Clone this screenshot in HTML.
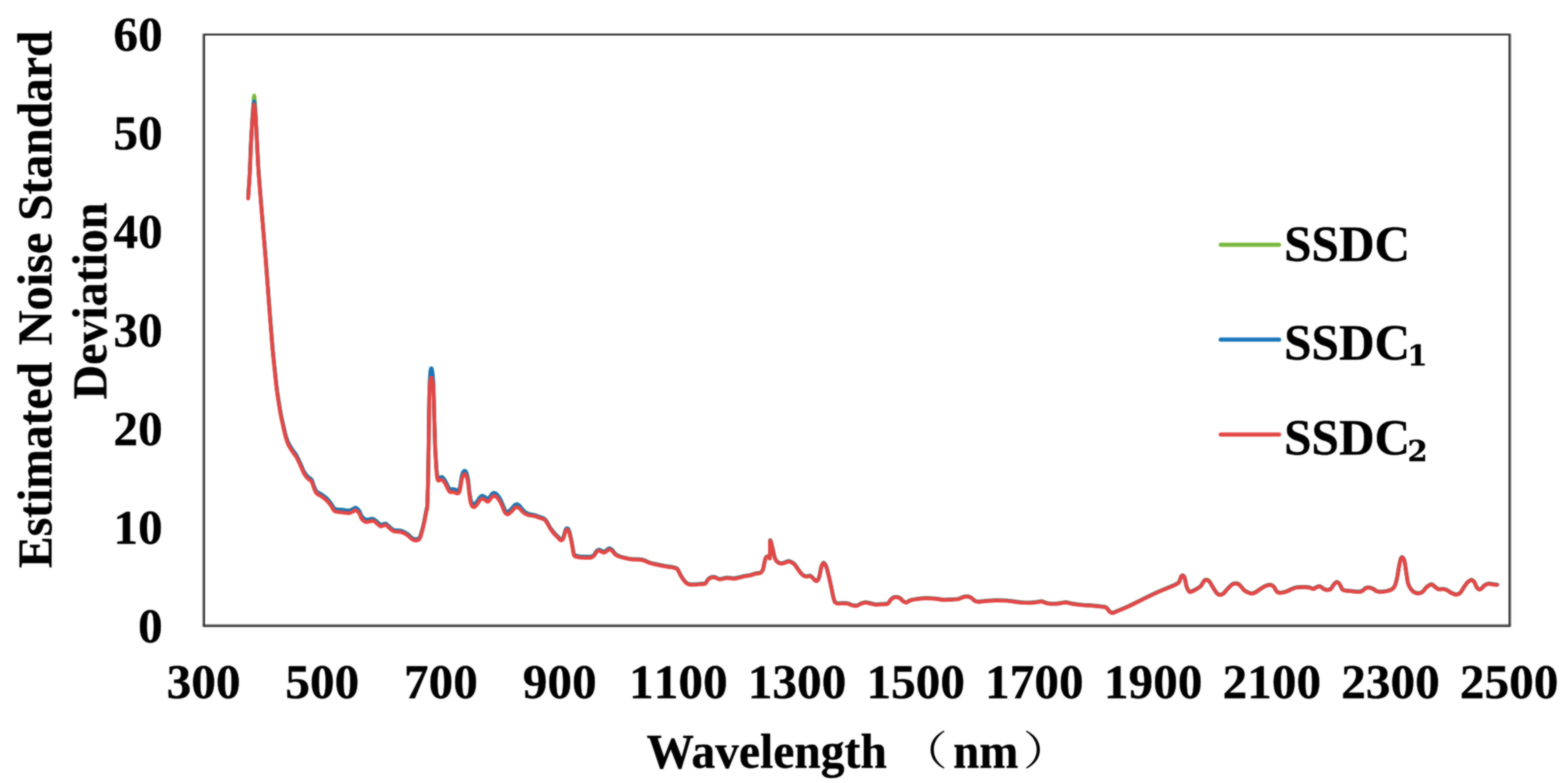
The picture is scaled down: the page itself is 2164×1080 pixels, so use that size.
<!DOCTYPE html>
<html lang="en">
<head>
<meta charset="utf-8">
<title>Estimated Noise Standard Deviation vs Wavelength</title>
<style>
html,body{margin:0;padding:0;background:#fff;}
body{width:2164px;height:1080px;overflow:hidden;}
svg{display:block;}
</style>
</head>
<body>
<svg width="2164" height="1080" viewBox="0 0 2164 1080">
<rect x="0" y="0" width="2164" height="1080" fill="#ffffff"/>
<defs><filter id="soft" filterUnits="userSpaceOnUse" x="0" y="0" width="2164" height="1080" color-interpolation-filters="sRGB"><feGaussianBlur in="SourceGraphic" stdDeviation="1" result="b"/><feComposite in="SourceGraphic" in2="b" operator="arithmetic" k1="0" k2="0.3" k3="0.7" k4="0"/></filter></defs>
<g filter="url(#soft)">
<g fill="none" stroke="#9a9a9a" stroke-width="1.4">
<line x1="279.9" y1="46.4" x2="279.9" y2="864.8"/>
<line x1="279.3" y1="861.5" x2="2085.8" y2="861.5"/>
<line x1="2085.1" y1="46.4" x2="2085.1" y2="864.8"/>
</g>
<rect x="281.7" y="47.65" width="1801.5" height="815.85" fill="none" stroke="#333333" stroke-width="2.6"/>
<g fill="none" stroke-linejoin="round" stroke-linecap="round">
<path d="M789.30,748.80C789.65,750.66 789.85,752.52 790.30,754.79C790.75,757.06 791.38,763.30 792.50,765.02C793.62,766.73 796.20,766.66 798.30,767.05C800.40,767.43 805.05,767.68 807.50,767.77C809.95,767.85 814.05,768.03 815.80,767.64C817.55,767.26 818.95,766.11 820.00,765.02C821.05,763.94 822.28,760.85 823.30,759.89C824.32,758.93 825.90,758.03 827.30,758.17C828.70,758.32 831.87,760.90 833.30,760.92C834.73,760.95 836.45,759.05 837.50,758.37C838.55,757.70 839.75,756.05 840.80,756.08C841.85,756.11 843.82,757.49 845.00,758.58C846.18,759.67 847.80,762.67 849.20,763.87C850.60,765.07 853.03,766.37 855.00,767.15C856.97,767.94 860.96,768.91 863.30,769.46C865.64,770.01 868.77,770.81 871.70,771.09C874.63,771.37 881.64,771.18 884.20,771.45C886.76,771.72 888.25,772.41 890.00,773.04C891.75,773.67 894.60,775.28 896.70,775.97C898.80,776.66 902.09,777.32 905.00,777.96C907.91,778.60 914.00,779.90 917.50,780.53C921.00,781.16 927.55,781.87 930.00,782.45C932.45,783.03 933.84,783.43 935.00,784.68C936.16,785.93 937.25,789.47 938.30,791.36C939.35,793.25 941.32,796.49 942.50,798.16C943.68,799.83 945.41,802.22 946.70,803.27C947.99,804.32 950.12,805.29 951.70,805.67C953.28,806.05 956.14,806.02 958.00,805.96C959.86,805.90 962.86,805.47 965.00,805.26C967.14,805.05 971.66,805.29 973.30,804.49C974.94,803.69 975.65,800.69 976.70,799.54C977.75,798.39 979.40,796.81 980.80,796.30C982.20,795.79 984.95,795.55 986.70,795.87C988.45,796.19 990.98,798.44 993.30,798.56C995.62,798.68 1000.61,796.83 1003.30,796.70C1005.99,796.56 1010.27,797.62 1012.50,797.58C1014.73,797.53 1017.10,796.85 1019.20,796.39C1021.30,795.93 1025.18,794.76 1027.50,794.31C1029.82,793.85 1033.70,793.61 1035.80,793.12C1037.90,792.63 1040.62,791.24 1042.50,790.79C1044.38,790.33 1047.76,790.60 1049.20,789.90C1050.64,789.20 1052.04,787.47 1052.80,785.77C1053.56,784.07 1054.12,779.86 1054.60,777.75C1055.08,775.65 1055.75,772.13 1056.20,770.74C1056.65,769.35 1057.32,768.33 1057.80,767.82C1058.28,767.31 1059.10,767.08 1059.60,767.10C1060.10,767.13 1060.99,767.68 1061.40,768.00C1061.81,768.32 1062.33,770.63 1062.50,769.40C1062.67,768.17 1062.56,762.56 1062.60,759.20C1062.64,755.84 1062.56,746.94 1062.80,745.40C1063.04,743.86 1063.78,746.55 1064.30,748.20C1064.82,749.86 1065.90,754.61 1066.50,757.20C1067.10,759.79 1067.97,764.53 1068.60,766.71C1069.23,768.88 1070.17,771.43 1071.00,772.71C1071.83,773.98 1073.39,775.23 1074.50,775.81C1075.61,776.38 1077.64,776.85 1078.90,776.81C1080.16,776.77 1082.25,775.92 1083.50,775.51C1084.75,775.11 1086.54,773.97 1087.80,773.92C1089.06,773.86 1091.35,774.62 1092.50,775.12C1093.65,775.63 1095.06,776.61 1096.00,777.52C1096.94,778.43 1098.05,780.04 1099.20,781.62C1100.35,783.21 1102.80,787.17 1104.20,788.86C1105.60,790.55 1107.93,792.85 1109.20,793.68C1110.47,794.51 1112.03,794.72 1113.30,794.76C1114.57,794.81 1117.12,793.70 1118.30,793.99C1119.48,794.27 1120.76,795.90 1121.70,796.79C1122.64,797.68 1124.08,799.83 1125.00,800.32C1125.92,800.81 1127.49,801.09 1128.30,800.31C1129.11,799.54 1130.10,797.27 1130.80,794.78C1131.50,792.30 1132.53,785.17 1133.30,782.57C1134.07,779.96 1135.36,776.50 1136.30,776.20C1137.24,775.89 1139.02,778.17 1140.00,780.40C1140.98,782.63 1142.36,788.36 1143.30,792.10C1144.24,795.84 1145.76,802.79 1146.70,807.10C1147.64,811.42 1149.19,819.64 1150.00,822.91C1150.81,826.17 1151.56,829.12 1152.50,830.41C1153.44,831.70 1155.19,831.93 1156.70,832.11C1158.21,832.29 1161.44,831.68 1163.30,831.66C1165.16,831.65 1168.25,831.60 1170.00,831.98C1171.75,832.36 1174.05,833.96 1175.80,834.40C1177.55,834.84 1180.75,835.43 1182.50,835.13C1184.25,834.82 1186.66,832.87 1188.30,832.23C1189.94,831.59 1192.45,830.59 1194.20,830.53C1195.95,830.48 1198.83,831.43 1200.80,831.84C1202.77,832.25 1205.96,833.27 1208.30,833.44C1210.64,833.61 1215.16,833.22 1217.50,833.07C1219.84,832.92 1223.36,833.23 1225.00,832.38C1226.64,831.54 1228.04,828.28 1229.20,827.07C1230.36,825.86 1232.03,824.25 1233.30,823.74C1234.57,823.23 1237.01,823.24 1238.30,823.42C1239.59,823.61 1241.42,824.34 1242.50,825.06C1243.58,825.78 1244.84,827.77 1246.00,828.57C1247.16,829.37 1249.36,830.90 1250.80,830.79C1252.24,830.68 1254.31,828.47 1256.30,827.80C1258.29,827.13 1262.03,826.44 1265.00,826.03C1267.97,825.62 1274.00,824.98 1277.50,824.88C1281.00,824.78 1286.50,825.02 1290.00,825.32C1293.50,825.62 1299.00,826.88 1302.50,827.05C1306.00,827.22 1312.09,826.73 1315.00,826.55C1317.91,826.37 1321.31,826.21 1323.30,825.75C1325.29,825.29 1327.67,823.71 1329.20,823.25C1330.73,822.79 1332.69,822.34 1334.20,822.45C1335.71,822.56 1338.49,823.24 1340.00,824.05C1341.51,824.86 1343.60,827.48 1345.00,828.25C1346.40,829.02 1347.79,829.49 1350.00,829.55C1352.21,829.61 1357.54,828.89 1360.80,828.65C1364.06,828.41 1369.21,827.91 1373.30,827.85C1377.39,827.79 1385.91,827.97 1390.00,828.25C1394.09,828.53 1399.70,829.51 1402.50,829.86C1405.30,830.21 1407.44,830.60 1410.00,830.78C1412.56,830.96 1417.54,831.28 1420.80,831.16C1424.06,831.04 1430.96,830.21 1433.30,829.93C1435.64,829.65 1435.75,828.84 1437.50,829.13C1439.25,829.42 1442.89,831.55 1445.80,832.01C1448.71,832.47 1454.80,832.57 1458.30,832.38C1461.80,832.19 1467.87,830.67 1470.80,830.66C1473.73,830.65 1476.27,831.87 1479.20,832.34C1482.13,832.81 1487.63,833.62 1491.70,834.02C1495.77,834.42 1504.23,834.85 1508.30,835.20C1512.37,835.55 1518.22,836.15 1520.80,836.50C1523.38,836.85 1525.30,836.83 1526.70,837.70C1528.10,838.57 1529.64,841.65 1530.80,842.70C1531.96,843.75 1533.47,845.20 1535.00,845.20C1536.53,845.20 1538.44,844.04 1541.70,842.70C1544.96,841.36 1551.08,838.99 1558.30,835.60C1565.52,832.21 1584.31,822.64 1593.30,818.50C1602.29,814.36 1617.71,808.32 1622.50,806.00C1627.29,803.68 1626.45,803.41 1627.50,801.90C1628.55,800.39 1629.30,796.38 1630.00,795.20C1630.70,794.02 1631.80,793.26 1632.50,793.50C1633.20,793.74 1634.30,794.80 1635.00,796.90C1635.70,799.00 1636.69,805.94 1637.50,808.50C1638.31,811.06 1639.99,814.15 1640.80,815.20C1641.61,816.25 1641.77,816.46 1643.30,816.00C1644.83,815.54 1649.71,813.06 1651.70,811.90C1653.69,810.74 1656.10,809.23 1657.50,807.70C1658.90,806.17 1660.65,802.16 1661.70,801.00C1662.75,799.84 1663.95,799.27 1665.00,799.40C1666.05,799.53 1667.91,800.39 1669.20,801.90C1670.49,803.41 1672.80,807.99 1674.20,810.20C1675.60,812.41 1677.93,816.30 1679.20,817.70C1680.47,819.10 1682.03,820.09 1683.30,820.20C1684.57,820.31 1686.66,819.79 1688.30,818.50C1689.94,817.21 1693.25,812.81 1695.00,811.00C1696.75,809.19 1699.29,806.52 1700.80,805.60C1702.31,804.68 1704.40,804.27 1705.80,804.40C1707.20,804.53 1709.27,805.23 1710.80,806.50C1712.33,807.77 1715.06,812.04 1716.70,813.50C1718.34,814.96 1720.99,816.23 1722.50,816.90C1724.01,817.57 1726.10,818.30 1727.50,818.30C1728.90,818.30 1730.64,817.89 1732.50,816.90C1734.36,815.91 1738.59,812.54 1740.80,811.20C1743.01,809.86 1746.42,807.96 1748.30,807.30C1750.18,806.64 1752.80,806.21 1754.20,806.50C1755.60,806.79 1757.25,808.18 1758.30,809.40C1759.35,810.62 1760.65,814.09 1761.70,815.20C1762.75,816.31 1764.05,817.19 1765.80,817.30C1767.55,817.41 1771.97,816.64 1774.20,816.00C1776.43,815.36 1779.73,813.51 1781.70,812.70C1783.67,811.89 1785.85,810.66 1788.30,810.20C1790.75,809.74 1796.51,809.40 1799.20,809.40C1801.89,809.40 1805.64,809.85 1807.50,810.20C1809.36,810.55 1811.21,811.96 1812.50,811.90C1813.79,811.84 1815.41,810.28 1816.70,809.80C1817.99,809.32 1820.30,808.21 1821.70,808.50C1823.10,808.79 1825.30,811.20 1826.70,811.90C1828.10,812.60 1830.30,813.50 1831.70,813.50C1833.10,813.50 1835.43,812.95 1836.70,811.90C1837.97,810.85 1839.64,807.29 1840.80,806.00C1841.96,804.71 1843.82,802.70 1845.00,802.70C1846.18,802.70 1848.15,804.60 1849.20,806.00C1850.25,807.40 1851.34,811.52 1852.50,812.70C1853.66,813.88 1855.64,814.05 1857.50,814.40C1859.36,814.75 1863.24,814.98 1865.80,815.20C1868.36,815.42 1873.74,816.11 1875.80,816.00C1877.86,815.89 1879.27,815.10 1880.50,814.40C1881.73,813.70 1883.33,811.59 1884.60,811.00C1885.87,810.41 1888.09,810.05 1889.60,810.20C1891.11,810.35 1893.87,811.37 1895.40,812.10C1896.93,812.83 1898.92,814.85 1900.50,815.40C1902.08,815.95 1904.67,816.08 1906.70,816.00C1908.73,815.92 1913.03,815.26 1915.00,814.80C1916.97,814.34 1919.40,813.69 1920.80,812.70C1922.20,811.71 1923.95,810.04 1925.00,807.70C1926.05,805.36 1927.49,799.74 1928.30,796.00C1929.11,792.26 1930.10,784.61 1930.80,781.00C1931.50,777.39 1932.66,771.95 1933.30,770.20C1933.94,768.45 1934.70,768.04 1935.40,768.50C1936.10,768.96 1937.54,770.57 1938.30,773.50C1939.06,776.43 1940.10,785.07 1940.80,789.40C1941.50,793.73 1942.36,801.14 1943.30,804.40C1944.24,807.66 1946.21,810.95 1947.50,812.70C1948.79,814.45 1950.99,816.14 1952.50,816.90C1954.01,817.66 1956.79,818.23 1958.30,818.10C1959.81,817.97 1961.90,817.11 1963.30,816.00C1964.70,814.89 1967.01,811.47 1968.30,810.20C1969.59,808.93 1971.32,807.49 1972.50,806.90C1973.68,806.31 1975.54,805.65 1976.70,806.00C1977.86,806.35 1979.64,808.52 1980.80,809.40C1981.96,810.28 1983.36,811.89 1985.00,812.30C1986.64,812.71 1990.64,812.01 1992.50,812.30C1994.36,812.59 1996.79,813.64 1998.30,814.40C1999.81,815.16 2001.77,816.94 2003.30,817.70C2004.83,818.46 2007.56,819.80 2009.20,819.80C2010.84,819.80 2013.49,819.04 2015.00,817.70C2016.51,816.36 2018.60,812.23 2020.00,810.20C2021.40,808.17 2023.74,804.60 2025.00,803.20C2026.26,801.80 2028.13,800.69 2029.00,800.20C2029.87,799.71 2030.43,799.42 2031.20,799.70C2031.97,799.98 2033.55,800.80 2034.50,802.20C2035.45,803.60 2036.98,808.22 2038.00,809.70C2039.02,811.18 2040.82,812.59 2041.80,812.80C2042.78,813.01 2044.03,811.98 2045.00,811.20C2045.97,810.42 2047.34,808.08 2048.70,807.20C2050.06,806.32 2052.88,805.10 2054.70,804.90C2056.52,804.70 2060.09,805.60 2061.70,805.80C2063.31,806.00 2065.57,806.23 2066.20,806.30" stroke="#7ab83f" stroke-width="5.2"/>
<path d="M342.50,271.14C342.81,266.45 344.17,247.93 344.70,237.64C345.23,227.35 345.78,208.51 346.30,197.64C346.82,186.77 347.90,168.19 348.40,159.97C348.90,151.76 349.56,142.93 349.90,138.94C350.24,134.95 350.55,131.49 350.80,131.49C351.05,131.49 351.39,134.95 351.70,138.94C352.01,142.93 352.57,151.76 353.00,159.97C353.43,168.19 354.24,186.76 354.80,197.63C355.36,208.51 356.02,223.63 357.00,237.63C357.98,251.63 360.43,280.83 361.80,297.63C363.17,314.43 365.47,340.83 366.80,357.63C368.13,374.43 370.01,400.83 371.30,417.63C372.59,434.43 374.92,465.03 376.00,477.63C377.08,490.22 378.12,499.22 379.00,507.62C379.88,516.02 381.18,529.22 382.30,537.62C383.42,546.02 386.06,562.02 387.00,567.62C387.94,573.22 388.37,574.68 389.00,577.62C389.63,580.56 390.79,585.51 391.50,588.62C392.21,591.73 393.19,596.70 394.10,599.82C395.01,602.94 396.50,607.81 398.00,610.91C399.50,614.02 403.27,619.67 404.80,622.01C406.33,624.35 407.57,625.27 408.90,627.61C410.23,629.95 412.86,635.60 414.30,638.71C415.74,641.81 417.79,647.24 419.20,649.81C420.61,652.37 422.89,655.37 424.40,657.00C425.91,658.64 428.82,659.79 430.00,661.50C431.18,663.21 431.86,667.00 432.80,669.23C433.74,671.46 435.15,675.67 436.70,677.43C438.25,679.20 441.88,680.45 443.90,681.85C445.92,683.26 449.31,685.75 451.10,687.47C452.89,689.19 455.15,692.13 456.70,694.13C458.25,696.14 459.88,700.54 462.20,701.80C464.52,703.05 470.57,702.78 473.30,703.11C476.03,703.44 479.75,704.31 481.70,704.14C483.65,703.96 485.88,702.40 487.20,701.86C488.52,701.32 489.85,699.83 491.10,700.27C492.35,700.71 495.01,703.39 496.10,704.99C497.19,706.59 497.65,710.07 498.90,711.70C500.15,713.33 502.75,716.10 505.00,716.63C507.25,717.16 512.82,715.04 515.00,715.49C517.18,715.94 519.12,718.70 520.60,719.84C522.08,720.99 523.98,723.36 525.60,723.67C527.22,723.98 530.49,721.63 532.20,722.07C533.91,722.51 536.25,725.57 537.80,726.81C539.35,728.04 541.35,730.24 543.30,730.92C545.25,731.59 549.75,731.29 551.70,731.63C553.65,731.97 555.65,732.64 557.20,733.34C558.75,734.05 561.25,735.49 562.80,736.66C564.35,737.82 566.83,740.68 568.30,741.67C569.77,742.65 571.82,743.67 573.30,743.68C574.78,743.68 577.65,743.28 578.90,741.69C580.15,740.09 581.35,735.16 582.20,732.29C583.05,729.43 584.30,724.34 585.00,721.20C585.70,718.06 586.65,712.64 587.20,709.85C587.75,707.06 588.56,702.93 588.90,701.26C589.24,699.58 589.36,702.57 589.60,697.88C589.84,693.19 590.33,679.00 590.60,667.77C590.87,656.54 591.30,630.29 591.50,617.66C591.70,605.04 591.85,588.35 592.00,577.61C592.15,566.86 592.38,549.28 592.60,540.92C592.82,532.57 593.32,522.30 593.60,517.91C593.88,513.52 594.36,510.88 594.60,509.57C594.84,508.27 595.10,508.58 595.30,508.58C595.50,508.58 595.73,508.27 596.00,509.57C596.27,510.88 596.88,514.41 597.20,517.91C597.52,521.41 597.99,526.36 598.30,534.60C598.61,542.84 599.08,565.28 599.40,576.77C599.72,588.26 600.31,609.00 600.60,616.69C600.89,624.37 601.25,627.47 601.50,631.66C601.75,635.86 602.13,643.29 602.40,646.64C602.67,649.99 603.09,653.86 603.40,655.62C603.71,657.37 604.03,658.78 604.60,659.19C605.17,659.59 606.69,658.69 607.50,658.52C608.31,658.34 609.69,657.68 610.40,657.95C611.11,658.21 611.93,659.48 612.60,660.39C613.27,661.30 614.44,663.05 615.20,664.43C615.96,665.81 617.23,668.85 618.00,670.26C618.77,671.67 619.59,673.89 620.70,674.49C621.81,675.10 624.44,674.31 625.90,674.57C627.36,674.83 630.04,676.25 631.10,676.34C632.16,676.43 632.95,675.95 633.50,675.18C634.05,674.41 634.51,673.21 635.00,670.84C635.49,668.48 636.54,660.76 637.00,658.30C637.46,655.83 637.91,654.38 638.30,653.26C638.69,652.15 639.32,650.88 639.80,650.33C640.28,649.77 641.20,649.17 641.70,649.28C642.20,649.39 642.97,650.25 643.40,651.14C643.83,652.02 644.39,653.88 644.80,655.60C645.21,657.33 645.92,660.65 646.30,663.47C646.68,666.28 647.08,672.32 647.50,675.73C647.92,679.13 648.78,685.33 649.30,687.82C649.82,690.30 650.56,692.44 651.20,693.51C651.84,694.58 653.16,695.39 653.90,695.45C654.64,695.50 655.76,694.58 656.50,693.90C657.24,693.22 658.36,691.76 659.20,690.60C660.04,689.44 661.60,686.57 662.50,685.60C663.40,684.63 664.62,683.70 665.60,683.70C666.58,683.70 668.42,685.01 669.50,685.60C670.58,686.19 672.25,688.11 673.30,687.90C674.35,687.69 676.20,685.05 677.00,684.10C677.80,683.15 678.43,681.70 679.00,681.10C679.57,680.50 680.47,679.91 681.10,679.80C681.73,679.69 682.84,680.01 683.50,680.30C684.16,680.59 685.17,681.30 685.80,681.90C686.43,682.50 687.41,683.80 688.00,684.60C688.59,685.40 689.37,686.45 690.00,687.60C690.63,688.75 691.72,690.99 692.50,692.80C693.28,694.61 694.90,698.94 695.60,700.55C696.30,702.16 696.88,703.54 697.50,704.30C698.12,705.06 699.37,705.87 700.00,706.00C700.63,706.13 701.44,705.58 702.00,705.25C702.56,704.91 703.34,704.22 704.00,703.59C704.66,702.97 705.93,701.66 706.70,700.78C707.47,699.91 708.83,698.06 709.50,697.37C710.17,696.67 710.97,696.10 711.50,695.82C712.03,695.53 712.78,695.30 713.30,695.35C713.82,695.39 714.68,695.83 715.20,696.13C715.72,696.43 716.33,696.77 717.00,697.50C717.67,698.23 719.16,700.36 720.00,701.35C720.84,702.34 722.15,703.81 723.00,704.60C723.85,705.39 725.12,706.45 726.10,707.02C727.08,707.59 728.84,708.28 730.00,708.66C731.16,709.03 733.21,709.44 734.40,709.71C735.59,709.98 737.32,710.24 738.50,710.58C739.68,710.93 741.61,711.75 742.80,712.17C743.99,712.58 745.84,713.12 747.00,713.54C748.16,713.97 750.19,714.61 751.10,715.19C752.01,715.77 752.87,716.84 753.50,717.67C754.13,718.51 754.77,719.73 755.60,721.16C756.43,722.58 758.48,726.36 759.40,727.82C760.32,729.29 761.42,730.60 762.20,731.60C762.98,732.60 764.19,734.08 765.00,734.98C765.81,735.88 767.22,737.25 768.00,738.06C768.78,738.86 769.96,740.04 770.60,740.74C771.24,741.43 772.07,742.56 772.60,743.02C773.13,743.48 773.85,744.02 774.40,744.00C774.95,743.99 775.95,743.65 776.50,742.89C777.05,742.13 777.81,740.03 778.30,738.56C778.79,737.10 779.57,733.76 780.00,732.44C780.43,731.12 781.01,729.69 781.40,729.14C781.79,728.60 782.41,728.51 782.80,728.56C783.19,728.60 783.81,728.88 784.20,729.46C784.59,730.03 785.10,730.97 785.60,732.66C786.10,734.35 787.28,739.25 787.80,741.51C788.32,743.77 788.95,746.94 789.30,748.80" stroke="#7ab83f" stroke-width="5.2"/>
<path d="M789.30,749.00C789.65,750.86 789.85,752.72 790.30,754.99C790.75,757.26 791.38,763.50 792.50,765.22C793.62,766.93 796.20,766.86 798.30,767.25C800.40,767.63 805.05,767.88 807.50,767.97C809.95,768.05 814.05,768.23 815.80,767.84C817.55,767.46 818.95,766.31 820.00,765.22C821.05,764.14 822.28,761.05 823.30,760.09C824.32,759.13 825.90,758.23 827.30,758.37C828.70,758.52 831.87,761.10 833.30,761.12C834.73,761.15 836.45,759.25 837.50,758.57C838.55,757.90 839.75,756.25 840.80,756.28C841.85,756.31 843.82,757.69 845.00,758.78C846.18,759.87 847.80,762.87 849.20,764.07C850.60,765.27 853.03,766.57 855.00,767.36C856.97,768.14 860.96,769.11 863.30,769.66C865.64,770.21 868.77,771.01 871.70,771.29C874.63,771.57 881.64,771.38 884.20,771.65C886.76,771.92 888.25,772.61 890.00,773.24C891.75,773.87 894.60,775.48 896.70,776.17C898.80,776.86 902.09,777.52 905.00,778.16C907.91,778.80 914.00,780.10 917.50,780.73C921.00,781.36 927.55,782.07 930.00,782.65C932.45,783.23 933.84,783.63 935.00,784.88C936.16,786.13 937.25,789.67 938.30,791.56C939.35,793.45 941.32,796.69 942.50,798.36C943.68,800.03 945.41,802.42 946.70,803.47C947.99,804.52 950.12,805.49 951.70,805.87C953.28,806.25 956.14,806.22 958.00,806.16C959.86,806.10 962.86,805.67 965.00,805.46C967.14,805.25 971.66,805.49 973.30,804.69C974.94,803.89 975.65,800.89 976.70,799.74C977.75,798.59 979.40,797.01 980.80,796.50C982.20,795.99 984.95,795.75 986.70,796.07C988.45,796.39 990.98,798.64 993.30,798.76C995.62,798.88 1000.61,797.03 1003.30,796.90C1005.99,796.76 1010.27,797.82 1012.50,797.77C1014.73,797.73 1017.10,797.05 1019.20,796.59C1021.30,796.13 1025.18,794.96 1027.50,794.50C1029.82,794.05 1033.70,793.81 1035.80,793.32C1037.90,792.83 1040.62,791.44 1042.50,790.99C1044.38,790.53 1047.76,790.80 1049.20,790.10C1050.64,789.40 1052.04,787.67 1052.80,785.97C1053.56,784.27 1054.12,780.06 1054.60,777.95C1055.08,775.85 1055.75,772.33 1056.20,770.94C1056.65,769.55 1057.32,768.53 1057.80,768.02C1058.28,767.51 1059.10,767.28 1059.60,767.30C1060.10,767.33 1060.99,767.88 1061.40,768.20C1061.81,768.52 1062.33,770.83 1062.50,769.60C1062.67,768.37 1062.56,762.76 1062.60,759.40C1062.64,756.04 1062.56,747.14 1062.80,745.60C1063.04,744.06 1063.78,746.75 1064.30,748.40C1064.82,750.06 1065.90,754.81 1066.50,757.40C1067.10,759.99 1067.97,764.73 1068.60,766.91C1069.23,769.08 1070.17,771.63 1071.00,772.91C1071.83,774.18 1073.39,775.43 1074.50,776.01C1075.61,776.58 1077.64,777.05 1078.90,777.01C1080.16,776.97 1082.25,776.12 1083.50,775.71C1084.75,775.31 1086.54,774.17 1087.80,774.12C1089.06,774.06 1091.35,774.82 1092.50,775.32C1093.65,775.83 1095.06,776.81 1096.00,777.72C1096.94,778.63 1098.05,780.24 1099.20,781.82C1100.35,783.41 1102.80,787.37 1104.20,789.06C1105.60,790.75 1107.93,793.05 1109.20,793.88C1110.47,794.71 1112.03,794.92 1113.30,794.96C1114.57,795.01 1117.12,793.90 1118.30,794.19C1119.48,794.47 1120.76,796.10 1121.70,796.99C1122.64,797.88 1124.08,800.03 1125.00,800.52C1125.92,801.01 1127.49,801.29 1128.30,800.51C1129.11,799.74 1130.10,797.47 1130.80,794.98C1131.50,792.50 1132.53,785.37 1133.30,782.77C1134.07,780.16 1135.36,776.70 1136.30,776.40C1137.24,776.09 1139.02,778.37 1140.00,780.60C1140.98,782.83 1142.36,788.56 1143.30,792.30C1144.24,796.04 1145.76,802.99 1146.70,807.30C1147.64,811.62 1149.19,819.84 1150.00,823.11C1150.81,826.37 1151.56,829.32 1152.50,830.61C1153.44,831.90 1155.19,832.13 1156.70,832.31C1158.21,832.49 1161.44,831.88 1163.30,831.86C1165.16,831.85 1168.25,831.80 1170.00,832.18C1171.75,832.56 1174.05,834.16 1175.80,834.60C1177.55,835.04 1180.75,835.63 1182.50,835.33C1184.25,835.02 1186.66,833.07 1188.30,832.43C1189.94,831.79 1192.45,830.79 1194.20,830.73C1195.95,830.68 1198.83,831.63 1200.80,832.04C1202.77,832.45 1205.96,833.47 1208.30,833.64C1210.64,833.81 1215.16,833.42 1217.50,833.27C1219.84,833.12 1223.36,833.43 1225.00,832.59C1226.64,831.74 1228.04,828.48 1229.20,827.27C1230.36,826.06 1232.03,824.45 1233.30,823.94C1234.57,823.43 1237.01,823.44 1238.30,823.62C1239.59,823.81 1241.42,824.54 1242.50,825.26C1243.58,825.98 1244.84,827.97 1246.00,828.77C1247.16,829.57 1249.36,831.10 1250.80,830.99C1252.24,830.88 1254.31,828.67 1256.30,828.00C1258.29,827.33 1262.03,826.64 1265.00,826.23C1267.97,825.82 1274.00,825.18 1277.50,825.08C1281.00,824.98 1286.50,825.22 1290.00,825.52C1293.50,825.82 1299.00,827.08 1302.50,827.25C1306.00,827.42 1312.09,826.93 1315.00,826.75C1317.91,826.57 1321.31,826.41 1323.30,825.95C1325.29,825.49 1327.67,823.91 1329.20,823.45C1330.73,822.99 1332.69,822.54 1334.20,822.65C1335.71,822.76 1338.49,823.44 1340.00,824.25C1341.51,825.06 1343.60,827.68 1345.00,828.45C1346.40,829.22 1347.79,829.69 1350.00,829.75C1352.21,829.81 1357.54,829.09 1360.80,828.85C1364.06,828.61 1369.21,828.11 1373.30,828.05C1377.39,827.99 1385.91,828.17 1390.00,828.45C1394.09,828.73 1399.70,829.71 1402.50,830.06C1405.30,830.41 1407.44,830.80 1410.00,830.98C1412.56,831.16 1417.54,831.48 1420.80,831.36C1424.06,831.24 1430.96,830.41 1433.30,830.13C1435.64,829.85 1435.75,829.04 1437.50,829.33C1439.25,829.62 1442.89,831.75 1445.80,832.21C1448.71,832.67 1454.80,832.77 1458.30,832.58C1461.80,832.39 1467.87,830.87 1470.80,830.86C1473.73,830.85 1476.27,832.07 1479.20,832.54C1482.13,833.01 1487.63,833.82 1491.70,834.22C1495.77,834.62 1504.23,835.05 1508.30,835.40C1512.37,835.75 1518.22,836.35 1520.80,836.70C1523.38,837.05 1525.30,837.03 1526.70,837.90C1528.10,838.77 1529.64,841.85 1530.80,842.90C1531.96,843.95 1533.47,845.40 1535.00,845.40C1536.53,845.40 1538.44,844.24 1541.70,842.90C1544.96,841.56 1551.08,839.19 1558.30,835.80C1565.52,832.41 1584.31,822.84 1593.30,818.70C1602.29,814.56 1617.71,808.52 1622.50,806.20C1627.29,803.88 1626.45,803.61 1627.50,802.10C1628.55,800.59 1629.30,796.58 1630.00,795.40C1630.70,794.22 1631.80,793.46 1632.50,793.70C1633.20,793.94 1634.30,795.00 1635.00,797.10C1635.70,799.20 1636.69,806.14 1637.50,808.70C1638.31,811.26 1639.99,814.35 1640.80,815.40C1641.61,816.45 1641.77,816.66 1643.30,816.20C1644.83,815.74 1649.71,813.26 1651.70,812.10C1653.69,810.94 1656.10,809.43 1657.50,807.90C1658.90,806.37 1660.65,802.36 1661.70,801.20C1662.75,800.04 1663.95,799.47 1665.00,799.60C1666.05,799.73 1667.91,800.59 1669.20,802.10C1670.49,803.61 1672.80,808.19 1674.20,810.40C1675.60,812.61 1677.93,816.50 1679.20,817.90C1680.47,819.30 1682.03,820.29 1683.30,820.40C1684.57,820.51 1686.66,819.99 1688.30,818.70C1689.94,817.41 1693.25,813.01 1695.00,811.20C1696.75,809.39 1699.29,806.72 1700.80,805.80C1702.31,804.88 1704.40,804.47 1705.80,804.60C1707.20,804.73 1709.27,805.43 1710.80,806.70C1712.33,807.97 1715.06,812.24 1716.70,813.70C1718.34,815.16 1720.99,816.43 1722.50,817.10C1724.01,817.77 1726.10,818.50 1727.50,818.50C1728.90,818.50 1730.64,818.09 1732.50,817.10C1734.36,816.11 1738.59,812.74 1740.80,811.40C1743.01,810.06 1746.42,808.16 1748.30,807.50C1750.18,806.84 1752.80,806.41 1754.20,806.70C1755.60,806.99 1757.25,808.38 1758.30,809.60C1759.35,810.82 1760.65,814.29 1761.70,815.40C1762.75,816.51 1764.05,817.39 1765.80,817.50C1767.55,817.61 1771.97,816.84 1774.20,816.20C1776.43,815.56 1779.73,813.71 1781.70,812.90C1783.67,812.09 1785.85,810.86 1788.30,810.40C1790.75,809.94 1796.51,809.60 1799.20,809.60C1801.89,809.60 1805.64,810.05 1807.50,810.40C1809.36,810.75 1811.21,812.16 1812.50,812.10C1813.79,812.04 1815.41,810.48 1816.70,810.00C1817.99,809.52 1820.30,808.41 1821.70,808.70C1823.10,808.99 1825.30,811.40 1826.70,812.10C1828.10,812.80 1830.30,813.70 1831.70,813.70C1833.10,813.70 1835.43,813.15 1836.70,812.10C1837.97,811.05 1839.64,807.49 1840.80,806.20C1841.96,804.91 1843.82,802.90 1845.00,802.90C1846.18,802.90 1848.15,804.80 1849.20,806.20C1850.25,807.60 1851.34,811.72 1852.50,812.90C1853.66,814.08 1855.64,814.25 1857.50,814.60C1859.36,814.95 1863.24,815.18 1865.80,815.40C1868.36,815.62 1873.74,816.31 1875.80,816.20C1877.86,816.09 1879.27,815.30 1880.50,814.60C1881.73,813.90 1883.33,811.79 1884.60,811.20C1885.87,810.61 1888.09,810.25 1889.60,810.40C1891.11,810.55 1893.87,811.57 1895.40,812.30C1896.93,813.03 1898.92,815.05 1900.50,815.60C1902.08,816.15 1904.67,816.28 1906.70,816.20C1908.73,816.12 1913.03,815.46 1915.00,815.00C1916.97,814.54 1919.40,813.89 1920.80,812.90C1922.20,811.91 1923.95,810.24 1925.00,807.90C1926.05,805.56 1927.49,799.94 1928.30,796.20C1929.11,792.46 1930.10,784.81 1930.80,781.20C1931.50,777.59 1932.66,772.15 1933.30,770.40C1933.94,768.65 1934.70,768.24 1935.40,768.70C1936.10,769.16 1937.54,770.77 1938.30,773.70C1939.06,776.63 1940.10,785.27 1940.80,789.60C1941.50,793.93 1942.36,801.34 1943.30,804.60C1944.24,807.86 1946.21,811.15 1947.50,812.90C1948.79,814.65 1950.99,816.34 1952.50,817.10C1954.01,817.86 1956.79,818.43 1958.30,818.30C1959.81,818.17 1961.90,817.31 1963.30,816.20C1964.70,815.09 1967.01,811.67 1968.30,810.40C1969.59,809.13 1971.32,807.69 1972.50,807.10C1973.68,806.51 1975.54,805.85 1976.70,806.20C1977.86,806.55 1979.64,808.72 1980.80,809.60C1981.96,810.48 1983.36,812.09 1985.00,812.50C1986.64,812.91 1990.64,812.21 1992.50,812.50C1994.36,812.79 1996.79,813.84 1998.30,814.60C1999.81,815.36 2001.77,817.14 2003.30,817.90C2004.83,818.66 2007.56,820.00 2009.20,820.00C2010.84,820.00 2013.49,819.24 2015.00,817.90C2016.51,816.56 2018.60,812.43 2020.00,810.40C2021.40,808.37 2023.74,804.80 2025.00,803.40C2026.26,802.00 2028.13,800.89 2029.00,800.40C2029.87,799.91 2030.43,799.62 2031.20,799.90C2031.97,800.18 2033.55,801.00 2034.50,802.40C2035.45,803.80 2036.98,808.42 2038.00,809.90C2039.02,811.38 2040.82,812.79 2041.80,813.00C2042.78,813.21 2044.03,812.18 2045.00,811.40C2045.97,810.62 2047.34,808.28 2048.70,807.40C2050.06,806.52 2052.88,805.30 2054.70,805.10C2056.52,804.90 2060.09,805.80 2061.70,806.00C2063.31,806.20 2065.57,806.43 2066.20,806.50" stroke="#1b76bd" stroke-width="5.2"/>
<path d="M342.50,271.34C342.81,266.65 344.17,248.13 344.70,237.84C345.23,227.55 345.78,208.34 346.30,197.84C346.82,187.34 347.90,170.10 348.40,162.84C348.90,155.57 349.56,149.16 349.90,145.95C350.24,142.74 350.55,139.93 350.80,139.93C351.05,139.93 351.39,142.75 351.70,145.95C352.01,149.16 352.57,155.57 353.00,162.84C353.43,170.10 354.24,187.34 354.80,197.83C355.36,208.33 356.02,223.83 357.00,237.83C357.98,251.83 360.43,281.03 361.80,297.83C363.17,314.63 365.47,341.03 366.80,357.83C368.13,374.63 370.01,401.03 371.30,417.83C372.59,434.63 374.92,465.23 376.00,477.83C377.08,490.42 378.12,499.42 379.00,507.82C379.88,516.22 381.18,529.42 382.30,537.82C383.42,546.22 386.06,562.22 387.00,567.82C387.94,573.42 388.37,574.88 389.00,577.82C389.63,580.76 390.79,585.71 391.50,588.82C392.21,591.93 393.19,596.90 394.10,600.02C395.01,603.14 396.50,608.01 398.00,611.11C399.50,614.22 403.27,619.87 404.80,622.21C406.33,624.55 407.57,625.47 408.90,627.81C410.23,630.15 412.86,635.80 414.30,638.91C415.74,642.01 417.79,647.44 419.20,650.01C420.61,652.57 422.89,655.57 424.40,657.20C425.91,658.84 428.82,659.99 430.00,661.70C431.18,663.41 431.86,667.20 432.80,669.43C433.74,671.66 435.15,675.87 436.70,677.63C438.25,679.40 441.88,680.65 443.90,682.05C445.92,683.46 449.31,685.95 451.10,687.67C452.89,689.39 455.15,692.33 456.70,694.33C458.25,696.34 459.88,700.74 462.20,702.00C464.52,703.25 470.57,702.98 473.30,703.31C476.03,703.64 479.75,704.51 481.70,704.34C483.65,704.16 485.88,702.60 487.20,702.06C488.52,701.52 489.85,700.03 491.10,700.47C492.35,700.91 495.01,703.59 496.10,705.19C497.19,706.79 497.65,710.27 498.90,711.90C500.15,713.53 502.75,716.30 505.00,716.83C507.25,717.36 512.82,715.24 515.00,715.69C517.18,716.14 519.12,718.90 520.60,720.04C522.08,721.19 523.98,723.56 525.60,723.87C527.22,724.18 530.49,721.83 532.20,722.27C533.91,722.71 536.25,725.77 537.80,727.01C539.35,728.24 541.35,730.44 543.30,731.12C545.25,731.79 549.75,731.49 551.70,731.83C553.65,732.17 555.65,732.84 557.20,733.54C558.75,734.25 561.25,735.69 562.80,736.86C564.35,738.02 566.83,740.88 568.30,741.87C569.77,742.85 571.82,743.87 573.30,743.88C574.78,743.88 577.65,743.48 578.90,741.89C580.15,740.29 581.35,735.36 582.20,732.49C583.05,729.63 584.30,724.54 585.00,721.40C585.70,718.26 586.65,712.84 587.20,710.05C587.75,707.26 588.56,703.13 588.90,701.46C589.24,699.78 589.36,702.77 589.60,698.08C589.84,693.39 590.33,679.20 590.60,667.97C590.87,656.74 591.30,630.49 591.50,617.86C591.70,605.24 591.85,588.60 592.00,577.81C592.15,567.02 592.38,549.21 592.60,540.78C592.82,532.35 593.32,522.02 593.60,517.60C593.88,513.17 594.36,510.50 594.60,509.18C594.84,507.87 595.10,508.19 595.30,508.19C595.50,508.19 595.73,507.87 596.00,509.18C596.27,510.50 596.88,514.06 597.20,517.60C597.52,521.13 597.99,526.11 598.30,534.42C598.61,542.73 599.08,565.42 599.40,576.97C599.72,588.51 600.31,609.20 600.60,616.89C600.89,624.57 601.25,627.67 601.50,631.86C601.75,636.06 602.13,643.49 602.40,646.84C602.67,650.19 603.09,654.06 603.40,655.82C603.71,657.57 604.03,658.98 604.60,659.39C605.17,659.79 606.69,658.89 607.50,658.72C608.31,658.54 609.69,657.88 610.40,658.15C611.11,658.41 611.93,659.68 612.60,660.59C613.27,661.50 614.44,663.25 615.20,664.63C615.96,666.01 617.23,669.05 618.00,670.46C618.77,671.87 619.59,674.09 620.70,674.69C621.81,675.30 624.44,674.51 625.90,674.77C627.36,675.03 630.04,676.45 631.10,676.54C632.16,676.63 632.95,676.15 633.50,675.38C634.05,674.61 634.51,673.41 635.00,671.04C635.49,668.68 636.54,660.96 637.00,658.50C637.46,656.03 637.91,654.58 638.30,653.46C638.69,652.35 639.32,651.08 639.80,650.53C640.28,649.97 641.20,649.37 641.70,649.48C642.20,649.59 642.97,650.45 643.40,651.34C643.83,652.22 644.39,654.08 644.80,655.80C645.21,657.53 645.92,660.85 646.30,663.66C646.68,666.48 647.08,672.52 647.50,675.93C647.92,679.33 648.78,685.53 649.30,688.02C649.82,690.50 650.56,692.64 651.20,693.71C651.84,694.78 653.16,695.59 653.90,695.65C654.64,695.70 655.76,694.78 656.50,694.10C657.24,693.42 658.36,691.96 659.20,690.80C660.04,689.64 661.60,686.77 662.50,685.80C663.40,684.83 664.62,683.90 665.60,683.90C666.58,683.90 668.42,685.21 669.50,685.80C670.58,686.39 672.25,688.31 673.30,688.10C674.35,687.89 676.20,685.25 677.00,684.30C677.80,683.35 678.43,681.90 679.00,681.30C679.57,680.70 680.47,680.11 681.10,680.00C681.73,679.89 682.84,680.21 683.50,680.50C684.16,680.79 685.17,681.50 685.80,682.10C686.43,682.70 687.41,684.00 688.00,684.80C688.59,685.60 689.37,686.65 690.00,687.80C690.63,688.95 691.72,691.19 692.50,693.00C693.28,694.81 694.90,699.14 695.60,700.75C696.30,702.36 696.88,703.74 697.50,704.50C698.12,705.26 699.37,706.07 700.00,706.20C700.63,706.33 701.44,705.78 702.00,705.45C702.56,705.11 703.34,704.42 704.00,703.79C704.66,703.17 705.93,701.86 706.70,700.98C707.47,700.11 708.83,698.26 709.50,697.57C710.17,696.87 710.97,696.30 711.50,696.02C712.03,695.73 712.78,695.50 713.30,695.55C713.82,695.59 714.68,696.03 715.20,696.33C715.72,696.63 716.33,696.97 717.00,697.70C717.67,698.43 719.16,700.56 720.00,701.55C720.84,702.54 722.15,704.01 723.00,704.80C723.85,705.59 725.12,706.65 726.10,707.22C727.08,707.79 728.84,708.48 730.00,708.86C731.16,709.23 733.21,709.64 734.40,709.91C735.59,710.18 737.32,710.44 738.50,710.78C739.68,711.13 741.61,711.95 742.80,712.37C743.99,712.78 745.84,713.32 747.00,713.74C748.16,714.17 750.19,714.81 751.10,715.39C752.01,715.97 752.87,717.04 753.50,717.87C754.13,718.71 754.77,719.93 755.60,721.36C756.43,722.78 758.48,726.56 759.40,728.02C760.32,729.49 761.42,730.80 762.20,731.80C762.98,732.80 764.19,734.28 765.00,735.18C765.81,736.08 767.22,737.45 768.00,738.26C768.78,739.06 769.96,740.24 770.60,740.94C771.24,741.63 772.07,742.76 772.60,743.22C773.13,743.68 773.85,744.22 774.40,744.20C774.95,744.19 775.95,743.85 776.50,743.09C777.05,742.33 777.81,740.23 778.30,738.76C778.79,737.30 779.57,733.96 780.00,732.64C780.43,731.32 781.01,729.89 781.40,729.34C781.79,728.80 782.41,728.71 782.80,728.76C783.19,728.80 783.81,729.08 784.20,729.66C784.59,730.23 785.10,731.17 785.60,732.86C786.10,734.55 787.28,739.45 787.80,741.71C788.32,743.97 788.95,747.14 789.30,749.00" stroke="#1b76bd" stroke-width="5.2"/>
<path d="M789.30,750.30C789.65,752.15 789.85,754.03 790.30,756.30C790.75,758.58 791.38,764.82 792.50,766.55C793.62,768.28 796.20,768.24 798.30,768.63C800.40,769.02 805.05,769.24 807.50,769.31C809.95,769.38 814.05,769.52 815.80,769.12C817.55,768.72 818.95,767.56 820.00,766.47C821.05,765.38 822.28,762.27 823.30,761.31C824.32,760.35 825.90,759.44 827.30,759.60C828.70,759.76 831.87,762.42 833.30,762.48C834.73,762.54 836.45,760.69 837.50,760.02C838.55,759.36 839.75,757.74 840.80,757.73C841.85,757.72 843.82,758.96 845.00,759.98C846.18,761.00 847.80,763.91 849.20,765.02C850.60,766.13 853.03,767.19 855.00,767.88C856.97,768.57 860.96,769.45 863.30,769.98C865.64,770.51 868.77,771.36 871.70,771.65C874.63,771.94 881.64,771.78 884.20,772.07C886.76,772.36 888.25,773.05 890.00,773.69C891.75,774.33 894.60,775.95 896.70,776.65C898.80,777.35 902.09,778.02 905.00,778.66C907.91,779.30 914.00,780.60 917.50,781.23C921.00,781.86 927.55,782.57 930.00,783.15C932.45,783.73 933.84,784.13 935.00,785.38C936.16,786.63 937.25,790.17 938.30,792.06C939.35,793.95 941.32,797.19 942.50,798.86C943.68,800.53 945.41,802.92 946.70,803.97C947.99,805.02 950.12,805.99 951.70,806.37C953.28,806.75 956.14,806.72 958.00,806.66C959.86,806.60 962.86,806.17 965.00,805.96C967.14,805.75 971.66,805.99 973.30,805.19C974.94,804.39 975.65,801.39 976.70,800.24C977.75,799.09 979.40,797.51 980.80,797.00C982.20,796.49 984.95,796.25 986.70,796.57C988.45,796.89 990.98,799.15 993.30,799.26C995.62,799.37 1000.61,797.53 1003.30,797.39C1005.99,797.25 1010.27,798.30 1012.50,798.25C1014.73,798.20 1017.10,797.51 1019.20,797.05C1021.30,796.59 1025.18,795.41 1027.50,794.95C1029.82,794.49 1033.70,794.25 1035.80,793.75C1037.90,793.25 1040.62,791.86 1042.50,791.40C1044.38,790.95 1047.76,791.20 1049.20,790.50C1050.64,789.80 1052.04,788.09 1052.80,786.40C1053.56,784.71 1054.12,780.50 1054.60,778.40C1055.08,776.30 1055.75,772.79 1056.20,771.40C1056.65,770.01 1057.32,769.00 1057.80,768.50C1058.28,768.00 1059.10,767.77 1059.60,767.80C1060.10,767.83 1060.99,768.38 1061.40,768.70C1061.81,769.02 1062.33,771.33 1062.50,770.10C1062.67,768.87 1062.56,763.26 1062.60,759.90C1062.64,756.54 1062.56,747.64 1062.80,746.10C1063.04,744.56 1063.78,747.25 1064.30,748.90C1064.82,750.55 1065.90,755.31 1066.50,757.90C1067.10,760.49 1067.97,765.23 1068.60,767.40C1069.23,769.57 1070.17,772.13 1071.00,773.40C1071.83,774.67 1073.39,775.93 1074.50,776.50C1075.61,777.07 1077.64,777.54 1078.90,777.50C1080.16,777.46 1082.25,776.61 1083.50,776.20C1084.75,775.79 1086.54,774.66 1087.80,774.60C1089.06,774.54 1091.35,775.30 1092.50,775.80C1093.65,776.30 1095.06,777.29 1096.00,778.20C1096.94,779.11 1098.05,780.71 1099.20,782.30C1100.35,783.89 1102.80,787.84 1104.20,789.53C1105.60,791.22 1107.93,793.52 1109.20,794.35C1110.47,795.18 1112.03,795.39 1113.30,795.43C1114.57,795.47 1117.12,794.37 1118.30,794.65C1119.48,794.93 1120.76,796.56 1121.70,797.45C1122.64,798.34 1124.08,800.49 1125.00,800.98C1125.92,801.47 1127.49,801.75 1128.30,800.97C1129.11,800.19 1130.10,797.93 1130.80,795.44C1131.50,792.96 1132.53,785.82 1133.30,783.22C1134.07,780.62 1135.36,777.15 1136.30,776.85C1137.24,776.55 1139.02,778.82 1140.00,781.05C1140.98,783.28 1142.36,789.01 1143.30,792.75C1144.24,796.49 1145.76,803.44 1146.70,807.75C1147.64,812.06 1149.19,820.29 1150.00,823.55C1150.81,826.81 1151.56,829.76 1152.50,831.05C1153.44,832.34 1155.19,832.58 1156.70,832.75C1158.21,832.92 1161.44,832.32 1163.30,832.30C1165.16,832.28 1168.25,832.23 1170.00,832.61C1171.75,832.99 1174.05,834.59 1175.80,835.03C1177.55,835.47 1180.75,836.06 1182.50,835.75C1184.25,835.44 1186.66,833.49 1188.30,832.85C1189.94,832.21 1192.45,831.21 1194.20,831.15C1195.95,831.09 1198.83,832.04 1200.80,832.45C1202.77,832.86 1205.96,833.88 1208.30,834.05C1210.64,834.22 1215.16,833.82 1217.50,833.67C1219.84,833.52 1223.36,833.81 1225.00,832.96C1226.64,832.11 1228.04,828.84 1229.20,827.62C1230.36,826.40 1232.03,824.79 1233.30,824.27C1234.57,823.75 1237.01,823.75 1238.30,823.93C1239.59,824.11 1241.42,824.84 1242.50,825.56C1243.58,826.28 1244.84,828.27 1246.00,829.07C1247.16,829.87 1249.36,831.40 1250.80,831.29C1252.24,831.18 1254.31,828.97 1256.30,828.30C1258.29,827.63 1262.03,826.94 1265.00,826.53C1267.97,826.12 1274.00,825.48 1277.50,825.38C1281.00,825.28 1286.50,825.52 1290.00,825.82C1293.50,826.12 1299.00,827.38 1302.50,827.55C1306.00,827.72 1312.09,827.23 1315.00,827.05C1317.91,826.87 1321.31,826.71 1323.30,826.25C1325.29,825.79 1327.67,824.21 1329.20,823.75C1330.73,823.29 1332.69,822.84 1334.20,822.95C1335.71,823.06 1338.49,823.74 1340.00,824.55C1341.51,825.36 1343.60,827.98 1345.00,828.75C1346.40,829.52 1347.79,829.99 1350.00,830.05C1352.21,830.11 1357.54,829.39 1360.80,829.15C1364.06,828.91 1369.21,828.41 1373.30,828.35C1377.39,828.29 1385.91,828.47 1390.00,828.75C1394.09,829.03 1399.70,830.01 1402.50,830.36C1405.30,830.71 1407.44,831.10 1410.00,831.28C1412.56,831.46 1417.54,831.78 1420.80,831.66C1424.06,831.54 1430.96,830.71 1433.30,830.43C1435.64,830.15 1435.75,829.34 1437.50,829.63C1439.25,829.92 1442.89,832.05 1445.80,832.51C1448.71,832.97 1454.80,833.07 1458.30,832.88C1461.80,832.69 1467.87,831.17 1470.80,831.16C1473.73,831.15 1476.27,832.37 1479.20,832.84C1482.13,833.31 1487.63,834.12 1491.70,834.52C1495.77,834.92 1504.23,835.35 1508.30,835.70C1512.37,836.05 1518.22,836.65 1520.80,837.00C1523.38,837.35 1525.30,837.33 1526.70,838.20C1528.10,839.07 1529.64,842.15 1530.80,843.20C1531.96,844.25 1533.47,845.70 1535.00,845.70C1536.53,845.70 1538.44,844.54 1541.70,843.20C1544.96,841.86 1551.08,839.49 1558.30,836.10C1565.52,832.71 1584.31,823.14 1593.30,819.00C1602.29,814.86 1617.71,808.82 1622.50,806.50C1627.29,804.18 1626.45,803.91 1627.50,802.40C1628.55,800.89 1629.30,796.88 1630.00,795.70C1630.70,794.52 1631.80,793.76 1632.50,794.00C1633.20,794.24 1634.30,795.30 1635.00,797.40C1635.70,799.50 1636.69,806.44 1637.50,809.00C1638.31,811.56 1639.99,814.65 1640.80,815.70C1641.61,816.75 1641.77,816.96 1643.30,816.50C1644.83,816.04 1649.71,813.56 1651.70,812.40C1653.69,811.24 1656.10,809.73 1657.50,808.20C1658.90,806.67 1660.65,802.66 1661.70,801.50C1662.75,800.34 1663.95,799.77 1665.00,799.90C1666.05,800.03 1667.91,800.89 1669.20,802.40C1670.49,803.91 1672.80,808.49 1674.20,810.70C1675.60,812.91 1677.93,816.80 1679.20,818.20C1680.47,819.60 1682.03,820.59 1683.30,820.70C1684.57,820.81 1686.66,820.29 1688.30,819.00C1689.94,817.71 1693.25,813.31 1695.00,811.50C1696.75,809.69 1699.29,807.02 1700.80,806.10C1702.31,805.18 1704.40,804.77 1705.80,804.90C1707.20,805.03 1709.27,805.73 1710.80,807.00C1712.33,808.27 1715.06,812.54 1716.70,814.00C1718.34,815.46 1720.99,816.73 1722.50,817.40C1724.01,818.07 1726.10,818.80 1727.50,818.80C1728.90,818.80 1730.64,818.39 1732.50,817.40C1734.36,816.41 1738.59,813.04 1740.80,811.70C1743.01,810.36 1746.42,808.46 1748.30,807.80C1750.18,807.14 1752.80,806.71 1754.20,807.00C1755.60,807.29 1757.25,808.68 1758.30,809.90C1759.35,811.12 1760.65,814.59 1761.70,815.70C1762.75,816.81 1764.05,817.69 1765.80,817.80C1767.55,817.91 1771.97,817.14 1774.20,816.50C1776.43,815.86 1779.73,814.01 1781.70,813.20C1783.67,812.39 1785.85,811.16 1788.30,810.70C1790.75,810.24 1796.51,809.90 1799.20,809.90C1801.89,809.90 1805.64,810.35 1807.50,810.70C1809.36,811.05 1811.21,812.46 1812.50,812.40C1813.79,812.34 1815.41,810.78 1816.70,810.30C1817.99,809.82 1820.30,808.71 1821.70,809.00C1823.10,809.29 1825.30,811.70 1826.70,812.40C1828.10,813.10 1830.30,814.00 1831.70,814.00C1833.10,814.00 1835.43,813.45 1836.70,812.40C1837.97,811.35 1839.64,807.79 1840.80,806.50C1841.96,805.21 1843.82,803.20 1845.00,803.20C1846.18,803.20 1848.15,805.10 1849.20,806.50C1850.25,807.90 1851.34,812.02 1852.50,813.20C1853.66,814.38 1855.64,814.55 1857.50,814.90C1859.36,815.25 1863.24,815.48 1865.80,815.70C1868.36,815.92 1873.74,816.61 1875.80,816.50C1877.86,816.39 1879.27,815.60 1880.50,814.90C1881.73,814.20 1883.33,812.09 1884.60,811.50C1885.87,810.91 1888.09,810.55 1889.60,810.70C1891.11,810.85 1893.87,811.87 1895.40,812.60C1896.93,813.33 1898.92,815.35 1900.50,815.90C1902.08,816.45 1904.67,816.58 1906.70,816.50C1908.73,816.42 1913.03,815.76 1915.00,815.30C1916.97,814.84 1919.40,814.19 1920.80,813.20C1922.20,812.21 1923.95,810.54 1925.00,808.20C1926.05,805.86 1927.49,800.24 1928.30,796.50C1929.11,792.76 1930.10,785.11 1930.80,781.50C1931.50,777.89 1932.66,772.45 1933.30,770.70C1933.94,768.95 1934.70,768.54 1935.40,769.00C1936.10,769.46 1937.54,771.07 1938.30,774.00C1939.06,776.93 1940.10,785.57 1940.80,789.90C1941.50,794.23 1942.36,801.64 1943.30,804.90C1944.24,808.16 1946.21,811.45 1947.50,813.20C1948.79,814.95 1950.99,816.64 1952.50,817.40C1954.01,818.16 1956.79,818.73 1958.30,818.60C1959.81,818.47 1961.90,817.61 1963.30,816.50C1964.70,815.39 1967.01,811.97 1968.30,810.70C1969.59,809.43 1971.32,807.99 1972.50,807.40C1973.68,806.81 1975.54,806.15 1976.70,806.50C1977.86,806.85 1979.64,809.02 1980.80,809.90C1981.96,810.78 1983.36,812.39 1985.00,812.80C1986.64,813.21 1990.64,812.51 1992.50,812.80C1994.36,813.09 1996.79,814.14 1998.30,814.90C1999.81,815.66 2001.77,817.44 2003.30,818.20C2004.83,818.96 2007.56,820.30 2009.20,820.30C2010.84,820.30 2013.49,819.54 2015.00,818.20C2016.51,816.86 2018.60,812.73 2020.00,810.70C2021.40,808.67 2023.74,805.10 2025.00,803.70C2026.26,802.30 2028.13,801.19 2029.00,800.70C2029.87,800.21 2030.43,799.92 2031.20,800.20C2031.97,800.48 2033.55,801.30 2034.50,802.70C2035.45,804.10 2036.98,808.72 2038.00,810.20C2039.02,811.68 2040.82,813.09 2041.80,813.30C2042.78,813.51 2044.03,812.48 2045.00,811.70C2045.97,810.92 2047.34,808.58 2048.70,807.70C2050.06,806.82 2052.88,805.60 2054.70,805.40C2056.52,805.20 2060.09,806.10 2061.70,806.30C2063.31,806.50 2065.57,806.73 2066.20,806.80" stroke="#e34745" stroke-width="5.2"/>
<path d="M342.50,273.80C342.81,269.11 344.17,250.59 344.70,240.30C345.23,230.01 345.78,210.80 346.30,200.30C346.82,189.80 347.90,172.41 348.40,165.30C348.90,158.19 349.56,152.45 349.90,149.50C350.24,146.55 350.55,144.20 350.80,144.20C351.05,144.20 351.39,146.55 351.70,149.50C352.01,152.45 352.57,158.19 353.00,165.30C353.43,172.41 354.24,189.80 354.80,200.30C355.36,210.80 356.02,226.30 357.00,240.30C357.98,254.30 360.43,283.50 361.80,300.30C363.17,317.10 365.47,343.50 366.80,360.30C368.13,377.10 370.01,403.50 371.30,420.30C372.59,437.10 374.92,467.70 376.00,480.30C377.08,492.90 378.12,501.90 379.00,510.30C379.88,518.70 381.18,531.90 382.30,540.30C383.42,548.70 386.06,564.70 387.00,570.30C387.94,575.90 388.37,577.36 389.00,580.30C389.63,583.24 390.79,588.19 391.50,591.30C392.21,594.41 393.19,599.38 394.10,602.50C395.01,605.62 396.50,610.49 398.00,613.60C399.50,616.71 403.27,622.36 404.80,624.70C406.33,627.04 407.57,627.96 408.90,630.30C410.23,632.64 412.86,638.29 414.30,641.40C415.74,644.51 417.79,649.94 419.20,652.50C420.61,655.06 422.89,658.06 424.40,659.70C425.91,661.34 428.82,662.48 430.00,664.20C431.18,665.92 431.86,669.75 432.80,672.00C433.74,674.25 435.15,678.49 436.70,680.30C438.25,682.11 441.88,683.44 443.90,684.90C445.92,686.36 449.31,688.94 451.10,690.70C452.89,692.46 455.15,695.46 456.70,697.50C458.25,699.54 459.88,704.00 462.20,705.30C464.52,706.60 470.57,706.45 473.30,706.80C476.03,707.15 479.75,707.98 481.70,707.80C483.65,707.62 485.88,706.05 487.20,705.50C488.52,704.95 489.85,703.47 491.10,703.90C492.35,704.33 495.01,707.00 496.10,708.60C497.19,710.20 497.65,713.70 498.90,715.30C500.15,716.90 502.75,719.57 505.00,720.00C507.25,720.43 512.82,718.05 515.00,718.40C517.18,718.75 519.12,721.42 520.60,722.50C522.08,723.58 523.98,725.86 525.60,726.10C527.22,726.34 530.49,723.82 532.20,724.20C533.91,724.58 536.25,727.58 537.80,728.80C539.35,730.02 541.35,732.23 543.30,732.90C545.25,733.57 549.75,733.26 551.70,733.60C553.65,733.94 555.65,734.60 557.20,735.30C558.75,736.00 561.25,737.44 562.80,738.60C564.35,739.76 566.83,742.62 568.30,743.60C569.77,744.58 571.82,745.60 573.30,745.60C574.78,745.60 577.65,745.20 578.90,743.60C580.15,742.00 581.35,737.07 582.20,734.20C583.05,731.33 584.30,726.21 585.00,723.10C585.70,719.99 586.65,714.73 587.20,712.00C587.75,709.27 588.56,705.24 588.90,703.60C589.24,701.96 589.36,704.96 589.60,700.30C589.84,695.64 590.33,681.50 590.60,670.30C590.87,659.10 591.30,632.90 591.50,620.30C591.70,607.70 591.85,590.80 592.00,580.30C592.15,569.80 592.38,552.66 592.60,545.30C592.82,537.94 593.32,531.00 593.60,527.70C593.88,524.40 594.36,522.64 594.60,521.70C594.84,520.76 595.10,521.00 595.30,521.00C595.50,521.00 595.73,520.76 596.00,521.70C596.27,522.64 596.88,525.10 597.20,527.70C597.52,530.30 597.99,532.94 598.30,540.30C598.61,547.66 599.08,569.10 599.40,580.30C599.72,591.50 600.31,612.60 600.60,620.30C600.89,628.00 601.25,631.10 601.50,635.30C601.75,639.50 602.13,646.94 602.40,650.30C602.67,653.66 603.09,657.54 603.40,659.30C603.71,661.06 604.03,662.48 604.60,662.90C605.17,663.32 606.69,662.45 607.50,662.30C608.31,662.15 609.69,661.52 610.40,661.80C611.11,662.08 611.93,663.38 612.60,664.30C613.27,665.22 614.44,667.00 615.20,668.40C615.96,669.80 617.23,672.87 618.00,674.30C618.77,675.73 619.59,677.97 620.70,678.60C621.81,679.23 624.44,678.51 625.90,678.80C627.36,679.09 630.04,680.59 631.10,680.70C632.16,680.81 632.95,680.36 633.50,679.60C634.05,678.84 634.51,677.65 635.00,675.30C635.49,672.95 636.54,665.25 637.00,662.80C637.46,660.35 637.91,658.91 638.30,657.80C638.69,656.69 639.32,655.45 639.80,654.90C640.28,654.35 641.20,653.77 641.70,653.90C642.20,654.03 642.97,654.90 643.40,655.80C643.83,656.70 644.39,658.58 644.80,660.30C645.21,662.02 645.92,665.30 646.30,668.10C646.68,670.90 647.08,676.91 647.50,680.30C647.92,683.69 648.78,689.84 649.30,692.30C649.82,694.76 650.56,696.86 651.20,697.90C651.84,698.94 653.16,699.67 653.90,699.70C654.64,699.73 655.76,698.79 656.50,698.10C657.24,697.41 658.36,695.96 659.20,694.80C660.04,693.64 661.60,690.77 662.50,689.80C663.40,688.83 664.62,687.90 665.60,687.90C666.58,687.90 668.42,689.21 669.50,689.80C670.58,690.39 672.25,692.31 673.30,692.10C674.35,691.89 676.20,689.25 677.00,688.30C677.80,687.35 678.43,685.90 679.00,685.30C679.57,684.70 680.47,684.11 681.10,684.00C681.73,683.89 682.84,684.21 683.50,684.50C684.16,684.79 685.17,685.50 685.80,686.10C686.43,686.70 687.41,688.00 688.00,688.80C688.59,689.60 689.37,690.68 690.00,691.80C690.63,692.92 691.72,695.05 692.50,696.80C693.28,698.55 694.90,702.75 695.60,704.30C696.30,705.85 696.88,707.19 697.50,707.90C698.12,708.61 699.37,709.27 700.00,709.40C700.63,709.53 701.44,709.09 702.00,708.80C702.56,708.51 703.34,707.87 704.00,707.30C704.66,706.73 705.93,705.51 706.70,704.70C707.47,703.89 708.83,702.14 709.50,701.50C710.17,700.86 710.97,700.35 711.50,700.10C712.03,699.85 712.78,699.69 713.30,699.70C713.82,699.71 714.68,699.98 715.20,700.20C715.72,700.42 716.33,700.67 717.00,701.30C717.67,701.93 719.16,703.83 720.00,704.70C720.84,705.57 722.15,706.83 723.00,707.50C723.85,708.17 725.12,709.05 726.10,709.50C727.08,709.95 728.84,710.45 730.00,710.70C731.16,710.95 733.21,711.10 734.40,711.30C735.59,711.50 737.32,711.78 738.50,712.10C739.68,712.42 741.61,713.21 742.80,713.60C743.99,713.99 745.84,714.49 747.00,714.90C748.16,715.31 750.19,715.93 751.10,716.50C752.01,717.07 752.87,718.16 753.50,719.00C754.13,719.84 754.77,721.07 755.60,722.50C756.43,723.93 758.48,727.73 759.40,729.20C760.32,730.67 761.42,731.99 762.20,733.00C762.98,734.01 764.19,735.49 765.00,736.40C765.81,737.31 767.22,738.69 768.00,739.50C768.78,740.31 769.96,741.50 770.60,742.20C771.24,742.90 772.07,744.04 772.60,744.50C773.13,744.96 773.85,745.50 774.40,745.50C774.95,745.50 775.95,745.23 776.50,744.50C777.05,743.77 777.81,741.73 778.30,740.30C778.79,738.87 779.57,735.59 780.00,734.30C780.43,733.01 781.01,731.63 781.40,731.10C781.79,730.57 782.41,730.47 782.80,730.50C783.19,730.53 783.81,730.75 784.20,731.30C784.59,731.85 785.10,732.75 785.60,734.40C786.10,736.05 787.28,740.87 787.80,743.10C788.32,745.33 788.95,748.45 789.30,750.30" stroke="#e34745" stroke-width="5.2"/>
</g>
<g stroke-width="5.8" stroke-linecap="round">
<line x1="1684.8" y1="337.6" x2="1765.2" y2="337.6" stroke="#7ab83f"/>
<line x1="1684.8" y1="468.4" x2="1765.2" y2="468.4" stroke="#1b76bd"/>
<line x1="1684.8" y1="599.3" x2="1765.2" y2="599.3" stroke="#e34745"/>
</g>
<g font-family="'Liberation Serif', 'Noto Serif CJK SC', serif" font-weight="bold" font-size="68px" fill="#000" stroke="#000" stroke-width="0.45" stroke-linejoin="round" style="font-kerning:none">
<text x="281.0" y="963" text-anchor="middle">300</text>
<text x="444.8" y="963" text-anchor="middle">500</text>
<text x="608.6" y="963" text-anchor="middle">700</text>
<text x="772.4" y="963" text-anchor="middle">900</text>
<text x="936.2" y="963" text-anchor="middle">1100</text>
<text x="1100.0" y="963" text-anchor="middle">1300</text>
<text x="1263.8" y="963" text-anchor="middle">1500</text>
<text x="1427.6" y="963" text-anchor="middle">1700</text>
<text x="1591.4" y="963" text-anchor="middle">1900</text>
<text x="1755.2" y="963" text-anchor="middle">2100</text>
<text x="1919.0" y="963" text-anchor="middle">2300</text>
<text x="2082.8" y="963" text-anchor="middle">2500</text>
<text x="224.5" y="886.0" text-anchor="end">0</text>
<text x="224.5" y="750.0" text-anchor="end">10</text>
<text x="224.5" y="614.0" text-anchor="end">20</text>
<text x="224.5" y="478.0" text-anchor="end">30</text>
<text x="224.5" y="342.0" text-anchor="end">40</text>
<text x="224.5" y="206.0" text-anchor="end">50</text>
<text x="224.5" y="70.0" text-anchor="end">60</text>
<text transform="translate(1772.3,360.3) scale(1,1.035)">SSDC</text>
<text transform="translate(1772.3,496.1) scale(1,1.035)">SSDC</text>
<text transform="translate(1772.3,627) scale(1,1.035)">SSDC</text>
<text x="1942.3" y="504" font-family="'DejaVu Serif', serif" font-size="40px">1</text>
<text x="1942.5" y="635.5" font-family="'DejaVu Serif', serif" font-size="40px">2</text>
<text style="font-kerning:normal" x="892.2" y="1059" textLength="331.7" lengthAdjust="spacingAndGlyphs">Wavelength</text>
<text x="1315.6" y="1059" textLength="89.8" lengthAdjust="spacingAndGlyphs">nm</text>
<text transform="translate(1240,1054.5) scale(1,0.82)" stroke="none" font-weight="normal" font-family="'Noto Serif CJK SC', serif">（</text>
<text transform="translate(1411.5,1054.5) scale(1,0.82)" stroke="none" font-weight="normal" font-family="'Noto Serif CJK SC', serif">）</text>
<text transform="translate(70.8,783.5) rotate(-90)" textLength="284.3" lengthAdjust="spacingAndGlyphs">Estimated</text>
<text transform="translate(70.8,476.3) rotate(-90)" textLength="155.4" lengthAdjust="spacingAndGlyphs">Noise</text>
<text transform="translate(70.8,304.6) rotate(-90)" textLength="262.3" lengthAdjust="spacingAndGlyphs">Standard</text>
<text transform="translate(146.7,551.0) rotate(-90)" textLength="271.5" lengthAdjust="spacingAndGlyphs">Deviation</text>
</g>
</g>
</svg>
</body>
</html>
